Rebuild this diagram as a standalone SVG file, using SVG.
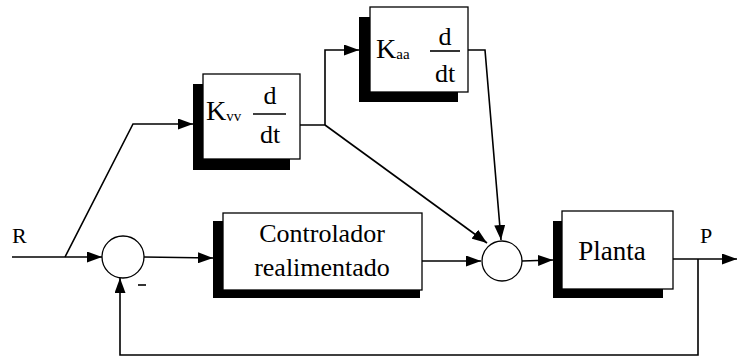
<svg xmlns="http://www.w3.org/2000/svg" width="737" height="361" viewBox="0 0 737 361">
<defs>
<marker id="ah" viewBox="0 0 15 11" refX="15" refY="5.5" markerWidth="15" markerHeight="11" markerUnits="userSpaceOnUse" orient="auto">
<path d="M0,0 L15,5.5 L0,11 z" fill="#000"/>
</marker>
</defs>
<style>
.t{font-family:"Liberation Serif","Times New Roman",serif;fill:#000}
.box{fill:#fff;stroke:#000;stroke-width:1.3}
.sh{fill:#000}
.ln{fill:none;stroke:#000;stroke-width:1.6}
.ar{fill:none;stroke:#000;stroke-width:1.6;marker-end:url(#ah)}
.sum{fill:#fff;stroke:#000;stroke-width:1.3}
</style>
<rect width="737" height="361" fill="#fff"/>
<g id="connectors">
<path class="ar" d="M12,257 L102,257"/>
<path class="ar" d="M65,257 L133,124 L193,124"/>
<path class="ar" d="M144,257 L213,258"/>
<path class="ar" d="M422,261 L481,261"/>
<path class="ar" d="M300,125 L325,125 L325,50 L359,50"/>
<path class="ar" d="M325,125 L487,243"/>
<path class="ar" d="M468,50 L485,50 L501,240"/>
<path class="ar" d="M522,261 L553,260"/>
<path class="ar" d="M673,259 L737,259"/>
<path class="ar" d="M698,259 L698,355 L120,355 L120,278"/>
</g>
<g id="R"><text class="t" x="12" y="243" font-size="22">R</text></g>
<g id="P"><text class="t" x="700" y="243" font-size="22">P</text></g>
<g id="sum1">
<circle class="sum" cx="123" cy="257" r="21"/>
<path class="ln" d="M138,285 L146,285"/>
</g>
<g id="Kvv">
<rect class="sh" x="193" y="84" width="97" height="86"/>
<rect class="box" x="203" y="74" width="97" height="85"/>
<text class="t" x="206" y="120" font-size="28">K<tspan font-size="15" dy="1">vv</tspan></text>
<text class="t" x="270" y="104" font-size="26" text-anchor="middle">d</text>
<path class="ln" d="M253,114 L286,114"/>
<text class="t" x="270" y="143" font-size="26" text-anchor="middle">dt</text>
</g>
<g id="Kaa">
<rect class="sh" x="359" y="17" width="99" height="85"/>
<rect class="box" x="370" y="7" width="98" height="85"/>
<text class="t" x="376" y="58" font-size="28">K<tspan font-size="15" dy="1">aa</tspan></text>
<text class="t" x="445" y="45" font-size="26" text-anchor="middle">d</text>
<path class="ln" d="M430,51 L460,51"/>
<text class="t" x="445" y="82" font-size="26" text-anchor="middle">dt</text>
</g>
<g id="controlador">
<rect class="sh" x="213" y="221" width="207" height="77"/>
<rect class="box" x="223" y="213" width="199" height="77"/>
<text class="t" x="322" y="242" font-size="26" text-anchor="middle">Controlador</text>
<text class="t" x="322" y="276" font-size="26" text-anchor="middle">realimentado</text>
</g>
<g id="sum2">
<circle class="sum" cx="502" cy="261" r="20"/>
</g>
<g id="planta">
<rect class="sh" x="553" y="221" width="110" height="77"/>
<rect class="box" x="562" y="211" width="111" height="78"/>
<text class="t" x="612" y="260" font-size="27" text-anchor="middle">Planta</text>
</g>
</svg>
